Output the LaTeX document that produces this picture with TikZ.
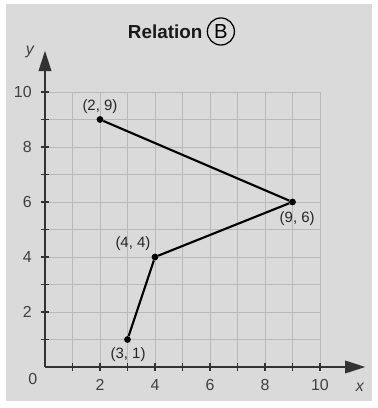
\documentclass[tikz,border=0pt]{standalone}
\usepackage{fontspec}
\setmainfont{Liberation Sans}
\usetikzlibrary{arrows.meta,positioning}

\definecolor{panelgray}{HTML}{DADADA}
\definecolor{gridgray}{HTML}{B9B9B9}

\tikzset{
    dot/.style={circle,fill=black,inner sep=0pt,minimum size=7pt},
    ptlabel/.style={font=\fontsize{15.5}{17}\selectfont,text=black!85,inner sep=1pt},
    ticklabel/.style={font=\fontsize{16.5}{18}\selectfont,text=black!75},
}

\begin{document}
\begin{tikzpicture}[scale=1]
    % Fix the page and the gray panel
    \useasboundingbox (-1.636,-1.491) rectangle (12.109,13.345);
    \fill[panelgray] (-1.42,-1.24) rectangle (11.89,13.2);

    % Define the origin and the ends of the axes
    \coordinate (O) at (0,0);
    \coordinate (X) at (11.65,0);
    \coordinate (Y) at (0,11.5);

    % Draw the grid
    \draw[gridgray,line width=0.8pt] (0,0) grid (10,10);

    % Draw the axes
    \draw[line width=1.8pt,black!80,-{Triangle[length=21pt,width=13pt]}] (O) -- (X);
    \draw[line width=1.8pt,black!80,-{Triangle[length=21pt,width=13pt]}] (O) -- (Y);

    % Tick marks and numbers
    \foreach \i in {1,...,10} {
        \draw[line width=1.5pt,black!80] (\i,-0.15) -- (\i,0.15);
        \draw[line width=1.5pt,black!80] (-0.15,\i) -- (0.15,\i);
    }
    \foreach \i in {2,4,...,10} {
        \node[ticklabel] at (\i,-0.66) {\i};
        \node[ticklabel,anchor=east] at (-0.36,\i) {\i};
    }
    \node[ticklabel] at (-0.44,-0.42) {0};
    \node[ticklabel,font=\fontsize{16.5}{18}\selectfont\itshape] at (11.45,-0.74) {x};
    \node[ticklabel,font=\fontsize{16.5}{18}\selectfont\itshape] at (-0.55,11.45) {y};

    % Title
    \node[font=\fontsize{19.5}{22}\selectfont\bfseries,text=black!90] (title) at (4.37,12.2) {Relation};
    \node[circle,draw,line width=1.3pt,inner sep=1pt,minimum size=28pt,
          font=\fontsize{21}{23}\selectfont,right=1pt of title] (rel) {B};

    % Points of the relation
    \node[dot] (A) at (2,9) {};
    \node[dot] (B) at (9,6) {};
    \node[dot] (C) at (4,4) {};
    \node[dot] (D) at (3,1) {};

    % Draw the segments
    \draw[line width=2.2pt] (A) -- (B);
    \draw[line width=2.2pt] (B) -- (C);
    \draw[line width=2.2pt] (C) -- (D);

    % Place the labels
    \node[ptlabel] at (2,9.47) {(2, 9)};
    \node[ptlabel] at (9.17,5.4) {(9, 6)};
    \node[ptlabel] at (3.2,4.5) {(4, 4)};
    \node[ptlabel] at (3.02,0.45) {(3, 1)};

\end{tikzpicture}
\end{document}
